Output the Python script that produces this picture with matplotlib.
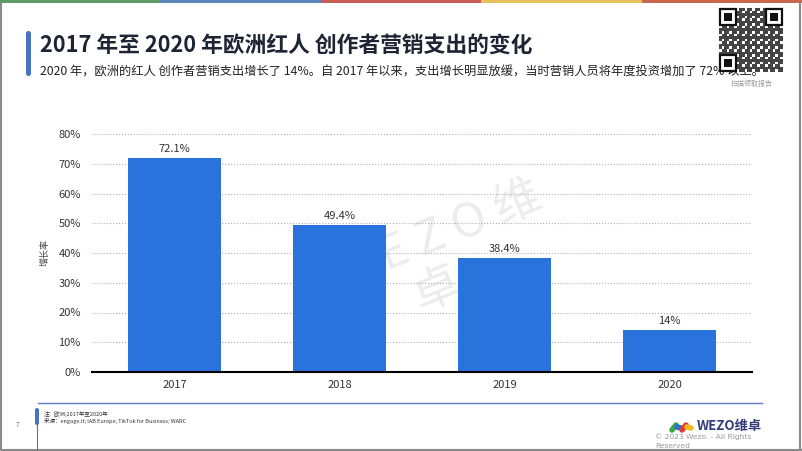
import matplotlib
matplotlib.use("Agg")
import matplotlib.pyplot as plt
from matplotlib.patches import Rectangle, FancyBboxPatch
import numpy as np

plt.rcParams['font.family'] = ['Noto Sans CJK SC', 'DejaVu Sans']

# data
years = ['2017', '2018', '2019', '2020']
growth = [72.1, 49.4, 38.4, 14.0]
value_labels = ['72.1%', '49.4%', '38.4%', '14%']
yticks = [0, 10, 20, 30, 40, 50, 60, 70, 80]

title = '2017 年至 2020 年欧洲红人 创作者营销支出的变化'
subtitle = ('2020 年，欧洲的红人 创作者营销支出增长了 14%。自 2017 年以来，'
            '支出增长明显放缓，当时营销人员将年度投资增加了 72% 以上。')

W, H = 802, 451
fig = plt.figure(figsize=(W / 100, H / 100), dpi=100)
fig.patch.set_facecolor('white')

# background layer in pixel coordinates
bg = fig.add_axes([0, 0, 1, 1])
bg.set_xlim(0, W)
bg.set_ylim(H, 0)
bg.axis('off')

# top coloured stripe
stripe = ['#5e9a66', '#5b86b8', '#c95a55', '#e7c25c', '#c8664e']
for i, c in enumerate(stripe):
    bg.add_patch(Rectangle((i * W / 5, 0), W / 5, 3, color=c, lw=0))
# grey frame
bg.plot([1, 1], [3, H], color='#8a8a8a', lw=1.5)
bg.plot([W - 2, W - 2], [3, H], color='#8a8a8a', lw=1.5)
bg.plot([0, W], [H - 1, H - 1], color='#8a8a8a', lw=1.5)

# title accent
bg.add_patch(FancyBboxPatch((26, 31), 5, 45, boxstyle='round,pad=0,rounding_size=2.5',
                            color='#4a72c4', lw=0))
bg.text(40, 45, title, fontsize=15.7, fontweight='bold', color='#1d2433', va='center')
bg.text(40, 72, subtitle, fontsize=8.8, color='#222222', va='center', zorder=2)

# QR-like block
qx, qy, qs = 719, 8, 64
bg.add_patch(Rectangle((qx, qy), qs, qs, color='white', lw=0, zorder=7))
n = 25
cell = qs / n
for i in range(n):
    for j in range(n):
        if (i * 7 + j * 13 + i * j) % 3 != 1:
            bg.add_patch(Rectangle((qx + j * cell, qy + i * cell), cell, cell,
                                   color='#444444', lw=0, zorder=8))
for (fx, fy) in [(qx, qy), (qx + 18 * cell, qy), (qx, qy + 18 * cell)]:
    bg.add_patch(Rectangle((fx, fy), 7 * cell, 7 * cell, color='white', lw=0, zorder=9))
    bg.add_patch(Rectangle((fx + 0.6, fy + 0.6), 7 * cell - 1.2, 7 * cell - 1.2, fill=False,
                           ec='#111111', lw=1.6, zorder=10))
    bg.add_patch(Rectangle((fx + 2 * cell, fy + 2 * cell), 3 * cell, 3 * cell,
                           color='#111111', lw=0, zorder=10))
bg.text(752, 84, '扫描领取报告', fontsize=5, color='#999999', ha='center', va='center')

# watermark
bg.text(540, 195, 'W E Z O 维', fontsize=34, color='#ececec', rotation=22,
        rotation_mode='anchor', ha='right', va='center', zorder=0)
bg.text(437, 290, '卓', fontsize=34, color='#ececec', rotation=22,
        rotation_mode='anchor', ha='center', va='center', zorder=0)

# footer
bg.plot([38, 762], [403, 403], color='#5b7fc8', lw=1)
bg.add_patch(FancyBboxPatch((35, 408), 4, 17, boxstyle='round,pad=0,rounding_size=2',
                            color='#4a72c4', lw=0))
bg.plot([37, 37], [420, H], color='#4a72c4', lw=0.8)
bg.text(16, 425, '7', fontsize=5, color='#777777', va='center')
bg.text(44, 414, '注：欧洲;2017年至2020年', fontsize=4, color='#333333', va='center')
bg.text(44, 421, '来源：engage.it; IAB Europe; TikTok for Business; WARC', fontsize=4,
        color='#333333', va='center')

# logo
logo_cols = ['#3aa845', '#2d6fd6', '#e23c36', '#f2b81c']
for k, c in enumerate(logo_cols):
    bg.plot([672 + k * 5, 676 + k * 5], [430 - (k % 2) * 3, 425 + (k % 2) * 3],
            color=c, lw=4, solid_capstyle='round')
bg.text(697, 426, 'WEZO维卓', fontsize=9.5, color='#333a7a', va='center', fontweight='bold')
bg.text(655, 437, '© 2023 Wezo. - All Rights', fontsize=5.4, color='#999999', va='center',
        family='DejaVu Sans')
bg.text(655, 446, 'Reserved', fontsize=5.4, color='#999999', va='center', family='DejaVu Sans')

# chart
ax = fig.add_axes([92 / W, 1 - 372 / H, 660 / W, (372 - 134) / H])
ax.patch.set_alpha(0)
x = np.arange(len(years))
bars = ax.bar(x, growth, width=0.56, color='#2a72dc', zorder=3)
for b, lab in zip(bars, value_labels):
    ax.text(b.get_x() + b.get_width() / 2, b.get_height() + 1.3, lab, ha='center',
            va='bottom', fontsize=8, color='#333333')
ax.set_xlim(-0.5, 3.5)
ax.set_ylim(0, 80)
ax.set_yticks(yticks)
ax.set_yticklabels([f'{v}%' for v in yticks], fontsize=8, color='#333333')
ax.set_xticks(x)
ax.set_xticklabels(years, fontsize=8, color='#333333')
ax.grid(axis='y', linestyle=':', color='#b0b0b0', lw=0.8, zorder=0)
for s in ['top', 'right', 'left']:
    ax.spines[s].set_visible(False)
ax.spines['bottom'].set_color('black')
ax.spines['bottom'].set_linewidth(1.5)
ax.spines['bottom'].set_zorder(4)
ax.tick_params(axis='both', length=0, pad=8)
ax.tick_params(axis='x', pad=6)
ax.set_ylabel('增长率', fontsize=6.5, color='#444444', labelpad=6)

fig.savefig('out.png', dpi=100)
